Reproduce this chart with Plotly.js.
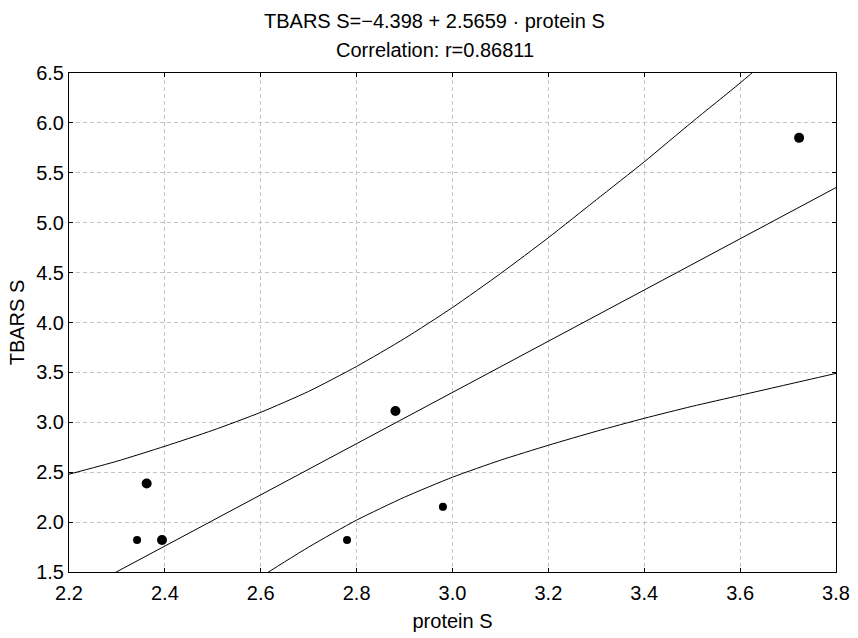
<!DOCTYPE html>
<html>
<head>
<meta charset="utf-8">
<script src="https://cdn.plot.ly/plotly-3.0.1.min.js"></script>
<style>html,body{margin:0;padding:0;background:#fff;}</style>
</head>
<body>
<div id="chart" style="width:858px;height:638px;"></div>
<script>
// Observed points (protein S, TBARS S)
const proteinS = [2.342, 2.362, 2.394, 2.78, 2.881, 2.98, 3.723];
const tbarsS   = [1.82, 2.387, 1.82, 1.82, 3.113, 2.153, 5.85];
const markerSizes = [8, 10, 10, 8, 10, 8, 10];

// Regression line (ends of the axis range)
const fitX = [2.2, 3.8];
const fitY = [1.247, 5.352];

// Confidence band curves
const bandX     = [2.2, 2.3, 2.4, 2.5, 2.6, 2.7, 2.8, 2.9, 3.0, 3.1, 3.2, 3.3, 3.4, 3.5, 3.6, 3.7, 3.8];
const bandUpper = [2.48, 2.61, 2.76, 2.92, 3.10, 3.31, 3.56, 3.84, 4.15, 4.49, 4.85, 5.23, 5.61, 6.01, 6.40, 6.81, 7.21];
const bandLower = [0.01, 0.40, 0.76, 1.12, 1.45, 1.75, 2.02, 2.25, 2.45, 2.62, 2.77, 2.91, 3.04, 3.16, 3.27, 3.38, 3.49];

const xTicks = [2.2, 2.4, 2.6, 2.8, 3.0, 3.2, 3.4, 3.6, 3.8];
const yTicks = [1.5, 2.0, 2.5, 3.0, 3.5, 4.0, 4.5, 5.0, 5.5, 6.0, 6.5];

const titleLines = ['TBARS S=\u22124.398 + 2.5659 \u00b7 protein S', 'Correlation: r=0.86811'];

const FONT = 'Liberation Sans, Arial, sans-serif';
const lineStyle = {color: '#000', width: 1, shape: 'spline', smoothing: 0.6};

const traces = [
  {x: bandX, y: bandUpper, mode: 'lines', line: lineStyle, hoverinfo: 'skip'},
  {x: bandX, y: bandLower, mode: 'lines', line: lineStyle, hoverinfo: 'skip'},
  {x: fitX, y: fitY, mode: 'lines', line: {color: '#000', width: 1}, hoverinfo: 'skip'},
  {x: proteinS, y: tbarsS, mode: 'markers', opacity: 1,
   marker: {color: '#000', opacity: 1, size: markerSizes, symbol: 'circle', line: {width: 0}}}
];

const axisCommon = {
  showline: true, linecolor: '#000', linewidth: 1, mirror: 'ticks',
  ticks: 'inside', ticklen: 4, tickcolor: '#000',
  showgrid: true, gridcolor: '#c4c4c4', griddash: '4px,3px', gridwidth: 1,
  zeroline: false,
  tickfont: {family: FONT, size: 20, color: '#000'}
};

const layout = {
  width: 858, height: 638,
  margin: {l: 69, r: 22, t: 73, b: 66},
  paper_bgcolor: '#fff', plot_bgcolor: '#fff',
  showlegend: false,
  annotations: [
    {text: titleLines[0], xref: 'paper', yref: 'paper', x: 0.477, y: 1.104,
     xanchor: 'center', yanchor: 'middle', showarrow: false,
     font: {family: FONT, size: 20, color: '#000'}},
    {text: titleLines[1], xref: 'paper', yref: 'paper', x: 0.477, y: 1.046,
     xanchor: 'center', yanchor: 'middle', showarrow: false,
     font: {family: FONT, size: 20, color: '#000'}}
  ],
  xaxis: Object.assign({}, axisCommon, {
    range: [2.2, 3.8], tickvals: xTicks, ticktext: xTicks.map(v => v.toFixed(1)),
    ticklabelstandoff: 3,
    title: {text: 'protein S', standoff: 10, font: {family: FONT, size: 20, color: '#000'}}
  }),
  yaxis: Object.assign({}, axisCommon, {
    range: [1.5, 6.5], tickvals: yTicks, ticktext: yTicks.map(v => v.toFixed(1)),
    title: {text: 'TBARS S', standoff: 6, font: {family: FONT, size: 20, color: '#000'}}
  })
};

Plotly.newPlot('chart', traces, layout, {displayModeBar: false, staticPlot: true});
</script>
</body>
</html>
